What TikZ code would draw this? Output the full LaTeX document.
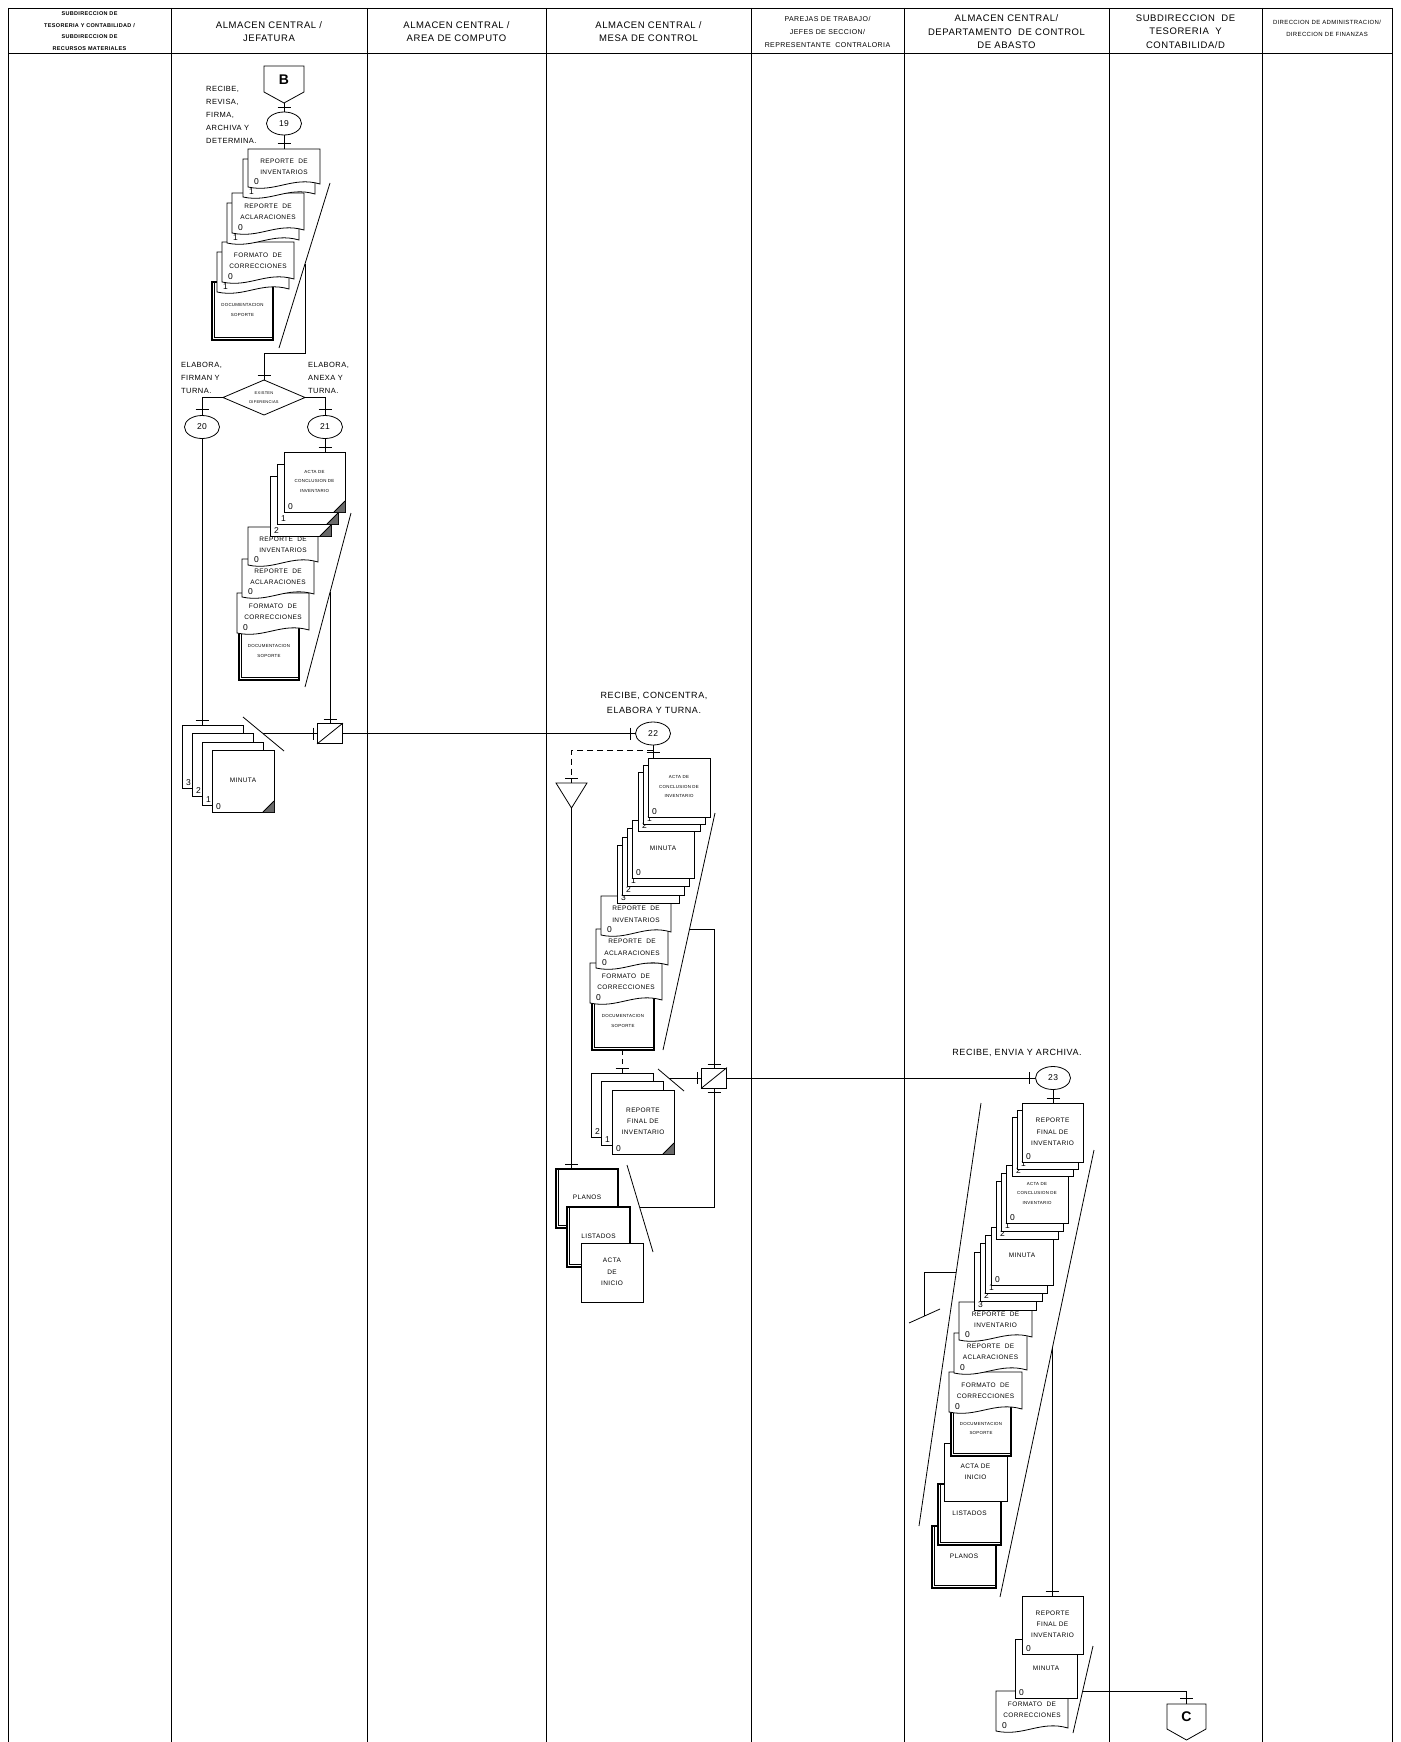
\documentclass[tikz,border=0pt]{standalone}
\usepackage{fontspec}
\setmainfont{Liberation Sans}[LetterSpace=6]
\usetikzlibrary{calc,shapes.geometric}
\definecolor{dogc}{RGB}{105,105,105}
\tikzset{
 ln/.style={line width=0.8pt},
 frame/.style={line width=0.9pt},
 doc/.style={draw, fill=white, line width=0.8pt},
 dbl/.style={draw, fill=white, line width=1.4pt},
 dtext/.style={font=\fontsize{6.5}{11.3}\selectfont, align=center, inner sep=0pt},
 tiny/.style={font=\fontsize{4.4}{9.5}\selectfont, align=center, inner sep=0pt},
 nlab/.style={font=\fontsize{8.5}{9}\selectfont, anchor=base west, inner sep=0pt},
 circ/.style={draw, ellipse, line width=0.8pt, minimum width=35pt, minimum height=23pt, inner sep=0pt, font=\fontsize{8.5}{9}\selectfont, fill=white},
 tbox/.style={draw, line width=0.8pt, minimum width=25pt, minimum height=20pt, inner sep=0pt, fill=white},
 act/.style={font=\fontsize{7.5}{13}\selectfont, align=left, anchor=north west, inner sep=0pt},
 act2/.style={font=\fontsize{9}{15}\selectfont, align=center, inner sep=0pt},
 hdr/.style={font=\fontsize{9.5}{13.5}\selectfont, align=center, inner sep=0pt},
 conn/.style={font=\bfseries\fontsize{14}{14}\selectfont, inner sep=0pt},
}
\newcommand{\TickH}[2]{\draw[ln] ({#1-6.5},#2) -- ({#1+6.5},#2);}
\newcommand{\TickV}[2]{\draw[ln] (#1,{#2-6}) -- (#1,{#2+6});}
\newcommand{\Wdoc}[7]{%
 \draw[doc] (#2,#3) -- ({#2+#4},#3) -- ({#2+#4},{#3+#5-3}) .. controls ({#2+0.62*#4},{#3+#5-11}) and ({#2+0.38*#4},{#3+#5+6}) .. (#2,{#3+#5}) -- cycle;
 \node[dtext] (#1) at ({#2+#4/2},{#3+0.47*#5}) {#6};
 \node[nlab] (#1-l) at ({#2+6},{#3+#5-3}) {#7};}
\newcommand{\Sheet}[8]{%
 \draw[doc] (#2,#3) rectangle ({#2+#4},{#3+#5});
 \node[#6] (#1) at ({#2+#4/2},{#3+0.49*#5}) {#7};
 \node[nlab] (#1-l) at ({#2+4},{#3+#5-3}) {#8};}
\newcommand{\Dogear}[4]{%
 \fill[dogc] ({#1+#3},{#2+#4-11}) -- ({#1+#3-11},{#2+#4}) -- ({#1+#3},{#2+#4}) -- cycle;
 \draw[ln] ({#1+#3},{#2+#4-11}) -- ({#1+#3-11},{#2+#4});}
\newcommand{\Dsheet}[8]{\Sheet{#1}{#2}{#3}{#4}{#5}{#6}{#7}{#8}\Dogear{#2}{#3}{#4}{#5}}
\newcommand{\Dbdoc}[7]{%
 \draw[dbl] (#2,#3) rectangle ({#2+#4},{#3+#5});
 \draw[line width=0.6pt] ({#2+2.6},#3) -- ({#2+2.6},{#3+#5-2.6}) -- ({#2+#4-0.7},{#3+#5-2.6});
 \node[#6] (#1) at ({#2+#4/2},{#3+0.48*#5}) {#7};}

\begin{document}
\begin{tikzpicture}[x=1pt,y=-1pt]
\useasboundingbox (0,0) rectangle (1400,1742);
\fill[white] (0,0) rectangle (1400,1742);

% ---------- frame and lanes
\draw[frame] (8,8) -- (1392,8);
\draw[frame] (8,53) -- (1392,53);
\foreach \xx in {8,171,367,546,751,904,1109,1262,1392} {\draw[frame] (\xx,8) -- (\xx,1742);}

\node[font=\bfseries\fontsize{5.5}{11.5}\selectfont, align=center, inner sep=0pt] (h1) at (89.5,31) {SUBDIRECCION DE\\TESORERIA Y CONTABILIDAD /\\SUBDIRECCION DE\\RECURSOS MATERIALES};
\node[hdr] (h2) at (269,31.5) {ALMACEN CENTRAL /\\JEFATURA};
\node[hdr] (h3) at (456.5,31.5) {ALMACEN CENTRAL /\\AREA DE COMPUTO};
\node[hdr] (h4) at (648.5,31.5) {ALMACEN CENTRAL /\\MESA DE CONTROL};
\node[font=\fontsize{7}{13}\selectfont, align=center, inner sep=0pt] (h5) at (827.5,31.5) {PAREJAS DE TRABAJO/\\JEFES DE SECCION/\\REPRESENTANTE~ CONTRALORIA};
\node[hdr] (h6) at (1006.5,32) {ALMACEN CENTRAL/\\DEPARTAMENTO~ DE CONTROL\\DE ABASTO};
\node[hdr] (h7) at (1185.5,31.5) {SUBDIRECCION~ DE\\TESORERIA~ Y\\CONTABILIDA/D};
\node[font=\fontsize{6}{12.5}\selectfont, align=center, inner sep=0pt] (h8) at (1327,28.5) {DIRECCION DE ADMINISTRACION/\\DIRECCION DE FINANZAS};

% ---------- JEFATURA
\draw[ln, fill=white] (264,66) -- (304,66) -- (304,92) -- (284,103) -- (264,92) -- cycle;
\node[conn] (B) at (284,79.5) {B};
\coordinate (Bp) at (284,103);
\node[circ] (c19) at (284,123.5) {19};
\draw[ln] (Bp) -- (c19.north); \TickH{284}{107}
\node[act] (t19) at (206,86.5) {RECIBE,\\REVISA,\\FIRMA,\\ARCHIVA Y\\DETERMINA.};
\coordinate (s1t) at (284,149);
\draw[ln] (c19.south) -- (s1t); \TickH{284}{143}

\Dbdoc{jdoc1}{212}{282}{61}{58}{tiny}{DOCUMENTACION\\SOPORTE}
\Wdoc{jfor1c}{217}{252}{72}{40}{}{1}
\Wdoc{jfor1}{222}{242}{72}{40}{FORMATO~ DE\\CORRECCIONES}{0}
\Wdoc{jacl1c}{227}{203}{72}{40}{}{1}
\Wdoc{jacl1}{232}{193}{72}{40}{REPORTE~ DE\\ACLARACIONES}{0}
\Wdoc{jinv1c}{243}{159}{72}{38}{}{1}
\Wdoc{jinv1}{248}{149}{72}{38}{REPORTE~ DE\\INVENTARIOS}{0}

\coordinate (br1a) at (330,183); \coordinate (br1b) at (279,348);
\draw[ln] (br1a) -- (br1b);
\coordinate (k1) at (305,264);
\coordinate (dtop) at (264,380); \coordinate (dL) at (223,397.5); \coordinate (dR) at (305,397.5); \coordinate (dB) at (264,415);
\draw[ln, fill=white] (dtop) -- (dR) -- (dB) -- (dL) -- cycle;
\node[font=\fontsize{4}{9}\selectfont, align=center, inner sep=0pt] (dec) at (264,397.5) {EXISTEN\\DIFERENCIAS};
\draw[ln] (k1) -- ++(0,89) -| (dtop); \TickH{264}{375}
\node[act] (t20) at (181,362) {ELABORA,\\FIRMAN Y\\TURNA.};
\node[act] (t21) at (308,362) {ELABORA,\\ANEXA Y\\TURNA.};
\node[circ] (c20) at (202,427) {20};
\node[circ] (c21) at (325,427) {21};
\draw[ln] (dL) -| (c20.north); \TickH{202}{409}
\draw[ln] (dR) -| (c21.north); \TickH{325}{409}
\coordinate (a1t) at (325,452);
\draw[ln] (c21.south) -- (a1t); \TickH{325}{447}

\Dbdoc{jdoc2}{239}{624}{60}{56}{tiny}{DOCUMENTACION\\SOPORTE}
\Wdoc{jfor2}{237}{593}{72}{40}{FORMATO~ DE\\CORRECCIONES}{0}
\Wdoc{jacl2}{242}{559}{72}{38}{REPORTE~ DE\\ACLARACIONES}{0}
\Wdoc{jinv2}{248}{527}{70}{38}{REPORTE~ DE\\INVENTARIOS}{0}
\Dsheet{jact2}{270}{476}{61}{60}{tiny}{}{2}
\Dsheet{jact1}{277}{464}{61}{60}{tiny}{}{1}
\Dsheet{jact0}{284}{452}{61}{60}{tiny}{ACTA DE\\CONCLUSION DE\\INVENTARIO}{0}

\coordinate (br2a) at (351,513); \coordinate (br2b) at (305,687);
\draw[ln] (br2a) -- (br2b);
\node[tbox] (t1) at (330,733.5) {};
\draw[ln] (t1.south west) -- (t1.north east);
\coordinate (k2) at (330,592.4);
\draw[ln] (k2) -- (t1.north); \TickH{330}{719}

\Sheet{jmin3}{182}{725}{61}{63}{dtext}{}{3}
\Sheet{jmin2}{192}{733}{61}{63}{dtext}{}{2}
\Sheet{jmin1}{202}{742}{61}{63}{dtext}{}{1}
\Dsheet{jmin0}{212}{750}{62}{62}{dtext}{MINUTA}{0}
\coordinate (m1t) at (202,725);
\draw[ln] (c20.south) -- (m1t); \TickH{202}{720}
\coordinate (sl1a) at (243,717); \coordinate (sl1b) at (284,751);
\draw[ln] (sl1a) -- (sl1b);
\coordinate (k3) at (263,733.5);
\draw[ln] (k3) -- (t1.west); \TickV{313}{733.5}

% ---------- MESA DE CONTROL
\node[circ] (c22) at (653,733.5) {22};
\node[act2] (t22) at (654,703) {RECIBE, CONCENTRA,\\ELABORA Y TURNA.};
\draw[ln] (t1.east) -- (c22.west); \TickV{630}{733.5}

\Dbdoc{mdoc}{592}{994}{62}{56}{tiny}{DOCUMENTACION\\SOPORTE}
\Wdoc{mfor}{590}{963}{72}{40}{FORMATO~ DE\\CORRECCIONES}{0}
\Wdoc{macl}{596}{929}{72}{39}{REPORTE~ DE\\ACLARACIONES}{0}
\Wdoc{minv}{601}{896}{70}{39}{REPORTE~ DE\\INVENTARIOS}{0}
\Sheet{mmin3}{617}{845}{62}{58}{dtext}{}{3}
\Sheet{mmin2}{622}{837}{62}{58}{dtext}{}{2}
\Sheet{mmin1}{627}{828}{62}{58}{dtext}{}{1}
\Sheet{mmin0}{632}{820}{62}{58}{dtext}{MINUTA}{0}
\Sheet{mact2}{638}{772}{62}{59}{tiny}{}{2}
\Sheet{mact1}{643}{765}{62}{59}{tiny}{}{1}
\Sheet{mact0}{648}{758}{62}{59}{tiny}{ACTA DE\\CONCLUSION DE\\INVENTARIO}{0}
\coordinate (a2t) at (653,758);
\draw[ln] (c22.south) -- (a2t); \TickH{653}{752}

\coordinate (dsh) at (653,750);
\coordinate (tri) at (571.5,783); \coordinate (trib) at (571.5,808);
\draw[ln, dash pattern=on 6pt off 4pt] (dsh) -| (tri); \TickH{571.5}{778}
\draw[ln, fill=white] (556,783) -- (587,783) -- (trib) -- cycle;

\coordinate (br3a) at (715,813); \coordinate (br3b) at (663,1050);
\draw[ln] (br3a) -- (br3b);
\node[tbox] (t2) at (714,1078) {};
\draw[ln] (t2.south west) -- (t2.north east);
\coordinate (k4) at (689.5,929);
\draw[ln] (k4) -| (t2.north); \TickH{714}{1064}

\coordinate (mdb) at (622,1050); \coordinate (rft) at (622,1073);
\draw[ln, dash pattern=on 5pt off 4pt] (mdb) -- (rft); \TickH{622}{1068}

\Sheet{mrf2}{591}{1073}{62}{64}{dtext}{}{2}
\Sheet{mrf1}{601}{1081}{62}{64}{dtext}{}{1}
\Dsheet{mrf0}{612}{1090}{62}{64}{dtext}{REPORTE\\FINAL DE\\INVENTARIO}{0}
\coordinate (sl2a) at (658,1069); \coordinate (sl2b) at (684,1091);
\draw[ln] (sl2a) -- (sl2b);
\coordinate (k5) at (668.6,1078);
\draw[ln] (k5) -- (t2.west); \TickV{697}{1078}

\Dbdoc{mplan}{556}{1169}{62}{59}{dtext}{PLANOS}
\Dbdoc{mlist}{567}{1207}{63}{60}{dtext}{LISTADOS}
\Sheet{minic}{581}{1243}{62}{59}{dtext}{ACTA\\DE\\INICIO}{}
\coordinate (p1t) at (571.5,1169);
\draw[ln] (trib) -- (p1t); \TickH{571.5}{1164}
\coordinate (br4a) at (627,1165); \coordinate (br4b) at (653,1252);
\draw[ln] (br4a) -- (br4b);
\coordinate (k6) at (639.6,1207);
\draw[ln] (t2.south) |- (k6); \TickH{714}{1092}

% ---------- DEPARTAMENTO DE CONTROL DE ABASTO
\node[circ] (c23) at (1053,1078) {23};
\node[act2] (t23) at (1017,1053) {RECIBE, ENVIA Y ARCHIVA.};
\draw[ln] (t2.east) -- (c23.west); \TickV{1029}{1078}

\Dbdoc{aplan}{932}{1526}{64}{62}{dtext}{PLANOS}
\Dbdoc{alist}{938}{1484}{63}{61}{dtext}{LISTADOS}
\Sheet{ainic}{944}{1443}{63}{58}{dtext}{ACTA DE\\INICIO}{}
\Dbdoc{adoc}{951}{1403}{60}{53}{tiny}{DOCUMENTACION\\SOPORTE}
\Wdoc{afor}{949}{1372}{73}{40}{FORMATO~ DE\\CORRECCIONES}{0}
\Wdoc{aacl}{954}{1333}{73}{40}{REPORTE~ DE\\ACLARACIONES}{0}
\Wdoc{ainv}{959}{1302}{73}{38}{REPORTE~ DE\\INVENTARIO}{0}
\Sheet{amin3}{974}{1252}{62}{58}{dtext}{}{3}
\Sheet{amin2}{980}{1243}{62}{58}{dtext}{}{2}
\Sheet{amin1}{985}{1235}{62}{58}{dtext}{}{1}
\Sheet{amin0}{991}{1227}{62}{58}{dtext}{MINUTA}{0}
\Sheet{aact2}{996}{1181}{62}{58}{tiny}{}{2}
\Sheet{aact1}{1001}{1173}{62}{58}{tiny}{}{1}
\Sheet{aact0}{1006}{1165}{62}{58}{tiny}{ACTA DE\\CONCLUSION DE\\INVENTARIO}{0}
\Sheet{arf2}{1012}{1117}{61}{59}{dtext}{}{2}
\Sheet{arf1}{1017}{1110}{61}{59}{dtext}{}{1}
\Sheet{arf0}{1022}{1103}{61}{59}{dtext}{REPORTE\\FINAL DE\\INVENTARIO}{0}
\coordinate (rf1t) at (1053,1103);
\draw[ln] (c23.south) -- (rf1t); \TickH{1053}{1098}

\coordinate (br5a) at (981,1103); \coordinate (br5b) at (919,1526);
\draw[ln] (br5a) -- (br5b);
\coordinate (br6a) at (1094,1150); \coordinate (br6b) at (1000,1597);
\draw[ln] (br6a) -- (br6b);
\coordinate (k7) at (956,1272); \coordinate (k7b) at (924.5,1316);
\draw[ln] (k7) -| (k7b);
\coordinate (sl3a) at (909,1323); \coordinate (sl3b) at (940,1309);
\draw[ln] (sl3a) -- (sl3b);

\Wdoc{afor2}{996}{1691}{72}{40}{FORMATO~ DE\\CORRECCIONES}{0}
\Sheet{amin4}{1015}{1639}{62}{59}{dtext}{MINUTA}{0}
\Sheet{arf4}{1022}{1596}{61}{58}{dtext}{REPORTE\\FINAL DE\\INVENTARIO}{0}
\coordinate (k8) at (1052,1348); \coordinate (rf4t) at (1052,1596);
\draw[ln] (k8) -- (rf4t); \TickH{1052}{1591}
\coordinate (br7a) at (1093,1646); \coordinate (br7b) at (1073,1733);
\draw[ln] (br7a) -- (br7b);

\draw[ln, fill=white] (1167,1704) -- (1206,1704) -- (1206,1729) -- (1186.5,1740) -- (1167,1729) -- cycle;
\node[conn] (C) at (1186.5,1717) {C};
\coordinate (Ct) at (1186.5,1704);
\coordinate (k9) at (1082.7,1691);
\draw[ln] (k9) -| (Ct); \TickH{1186.5}{1698}
\end{tikzpicture}
\end{document}
